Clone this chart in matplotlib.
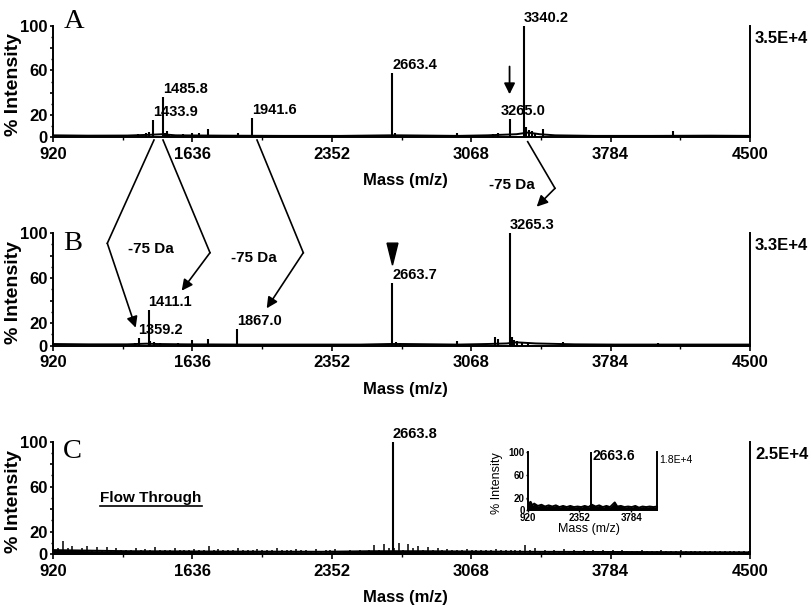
import matplotlib
matplotlib.use('Agg')
import matplotlib.pyplot as plt
from matplotlib.lines import Line2D
from matplotlib.patches import FancyArrowPatch, Polygon

plt.rcParams['font.family'] = ['Liberation Sans', 'DejaVu Sans']
plt.rcParams['font.weight'] = 'bold'

W, H = 812, 607

# axis ticks
x_ticks = [920, 1636, 2352, 3068, 3784, 4500]
x_minor = [1278, 1994, 2710, 3426, 4142]
y_ticks = [0, 20, 40, 60, 80, 100]
y_labels = ['0', '20', '', '60', '', '100']
y_minor = [10, 30, 50, 70, 90]

# Panel A - peaks (m/z, % intensity)
a_mass = [1357, 1400, 1413, 1433.9, 1485.8, 1497, 1504, 1515, 1588, 1632, 1670, 1716,
          1870, 1941.6, 2663.4, 2675, 2993, 3180, 3205, 3265.0, 3340.2, 3352, 3366,
          3381, 3395, 3438, 4103, 4150, 4178]
a_int = [3, 3.5, 4.5, 15, 36, 4, 5, 3, 3, 3.5, 3.5, 7,
         3.5, 17.5, 58, 4, 3.5, 2.5, 3.5, 16.5, 100, 9, 6,
         5, 3.5, 7, 5, 2, 2]
a_base_mass = [920, 1100, 1300, 1420, 1480, 1550, 1800, 2100, 2400, 2650, 2700, 3000,
               3150, 3300, 3360, 3420, 3500, 3700, 4000, 4300, 4500]
a_base_int = [1.5, 1.2, 1.3, 2.0, 2.5, 1.5, 1.2, 1.0, 1.0, 1.5, 1.5, 1.0,
              1.5, 2.5, 4.0, 2.5, 1.5, 1.0, 1.0, 1.2, 1.0]
a_labels = [1433.9, 1485.8, 1941.6, 2663.4, 3265.0, 3340.2]

# Panel B
b_mass = [1340, 1359.2, 1411.1, 1418, 1440, 1470, 1560, 1632, 1718, 1867.0, 2663.7, 2680,
          2700, 2993, 3190, 3205, 3265.3, 3276, 3290, 3305, 3330, 3360, 3539, 4027]
b_int = [2.5, 7, 32, 4, 3, 2.5, 2.5, 5, 6, 15, 56, 3,
         2, 4, 7.5, 6, 100, 8, 5, 4, 3, 2.5, 3, 2.5]
b_base_mass = [920, 1100, 1300, 1400, 1450, 1600, 1900, 2200, 2500, 2650, 2720, 3000,
               3150, 3250, 3300, 3400, 3600, 3800, 4100, 4500]
b_base_int = [1.5, 1.2, 1.2, 1.8, 1.5, 1.2, 1.0, 1.0, 1.0, 1.5, 1.5, 1.0,
              1.5, 2.0, 3.0, 2.0, 1.2, 1.0, 1.0, 1.0]
b_labels = [1359.2, 1411.1, 1867.0, 2663.7, 3265.3]

# Panel C (flow through)
c_mass = [2663.8]
c_int = [100]
c_base_mass = [920, 1300, 1800, 2300, 2550, 2800, 3300, 3800, 4500]
c_base_int = [3.5, 2.5, 2.2, 2.0, 2.5, 2.5, 2.0, 1.8, 1.5]
c_noise_mass = [
    920, 945, 970, 995, 1020, 1045, 1070, 1095, 1120, 1145, 1170, 1195,
    1220, 1245, 1270, 1295, 1320, 1345, 1370, 1395, 1420, 1445, 1470, 1495,
    1520, 1545, 1570, 1595, 1620, 1645, 1670, 1695, 1720, 1745, 1770, 1795,
    1820, 1845, 1870, 1895, 1920, 1945, 1970, 1995, 2020, 2045, 2070, 2095,
    2120, 2145, 2170, 2195, 2220, 2245, 2270, 2295, 2320, 2345, 2370, 2395,
    2420, 2445, 2470, 2495, 2520, 2545, 2570, 2595, 2620, 2645, 2670, 2695,
    2720, 2745, 2770, 2795, 2820, 2845, 2870, 2895, 2920, 2945, 2970, 2995,
    3020, 3045, 3070, 3095, 3120, 3145, 3170, 3195, 3220, 3245, 3270, 3295,
    3320, 3345, 3370, 3395, 3420, 3445, 3470, 3495, 3520, 3545, 3570, 3595,
    3620, 3645, 3670, 3695, 3720, 3745, 3770, 3795, 3820, 3845, 3870, 3895,
    3920, 3945, 3970, 3995, 4020, 4045, 4070, 4095, 4120, 4145, 4170, 4195,
    4220, 4245, 4270, 4295, 4320, 4345, 4370, 4395, 4420, 4445, 4470, 4495]
c_noise_int = [
    8, 5, 12, 5, 7, 4, 5, 7, 4, 6, 4, 6,
    4, 5, 3.5, 4, 3.5, 5, 3.5, 4.5, 3.5, 6, 3.5, 4,
    3.5, 5, 3.5, 4, 3.5, 4.5, 3.5, 4, 7.5, 3.5, 4.5, 3.5,
    4, 3.5, 5, 3.5, 4, 3.5, 4.5, 3.5, 4, 3.5, 5, 3.5,
    4, 3.5, 4.5, 3.5, 4, 3, 4.5, 3, 4, 3.5, 4.5, 3,
    3, 3.5, 3, 3.5, 3, 3.5, 8, 4, 9, 5, 5, 10,
    4, 9, 5, 7, 4, 6, 4, 5, 3.5, 4.5, 3.5, 4,
    3.5, 4.5, 3.5, 4, 3.5, 4, 3.5, 4.5, 3.5, 4, 3.5, 4,
    3.5, 8, 3.5, 5, 3, 4, 3, 4, 3, 4.5, 3, 3.5,
    3, 4, 3, 3.5, 3, 4, 3, 3.5, 3, 4, 3, 3,
    3, 3.5, 2.5, 3, 3, 3.5, 2.5, 3, 2.5, 3.5, 2.5, 3,
    2.5, 3, 2.5, 3, 2.5, 3, 2.5, 3, 2.5, 3, 2.5, 2.5]

# Inset of panel C
in_mass = [2663.6]
in_int = [100]
in_noise_mass = [920, 960, 1000, 1050, 1100, 1200, 1300, 1400, 1500, 1600, 1700, 1800, 1900,
                 2000, 2100, 2200, 2300, 2400, 2500, 2600, 2700, 2800, 2900, 3000, 3100, 3200,
                 3330, 3400, 3500, 3600, 3700, 3800, 3900, 4000, 4100, 4200, 4300, 4400, 4500]
in_noise_int = [18, 9, 14, 8, 11, 7, 9, 6, 8, 6, 8, 5, 7,
                5, 7, 5, 6, 5, 7, 5, 9, 6, 8, 5, 7, 5,
                13, 6, 7, 5, 6, 5, 7, 4, 6, 5, 6, 5, 6]

scale_texts = ['3.5E+4', '3.3E+4', '2.5E+4']
letters = ['A', 'B', 'C']
letter_y = [0.979, 0.849, 0.852]


def px_rect(left, top, right, bottom):
    return [left / W, 1 - bottom / H, (right - left) / W, (bottom - top) / H]


def fpx(x, y):
    return (x / W, 1 - y / H)


fig = plt.figure(figsize=(W / 100, H / 100), dpi=100)

boxes = [px_rect(53, 26, 750, 137), px_rect(53, 233, 750, 345.7), px_rect(53, 441.7, 750, 554)]
axes = [fig.add_axes(b) for b in boxes]

for i, ax in enumerate(axes):
    ax.set_xlim(920, 4500)
    ax.set_ylim(0, 100)
    ax.spines['top'].set_visible(False)
    for s in ['left', 'bottom', 'right']:
        ax.spines[s].set_linewidth(1.4)
    ax.set_xticks(x_ticks)
    ax.set_xticks(x_minor, minor=True)
    ax.set_yticks(y_ticks)
    ax.set_yticklabels(y_labels)
    ax.set_yticks(y_minor, minor=True)
    ax.tick_params(which='both', direction='out', right=False, width=1.2)
    ax.tick_params(axis='x', which='major', length=3.5, pad=3.5, labelsize=12)
    ax.tick_params(axis='y', which='major', length=2.5, pad=1.5, labelsize=12)
    ax.tick_params(which='minor', length=1.8, width=1)
    ax.set_xlabel('Mass (m/z)', fontsize=12, fontweight='bold')
    ax.xaxis.set_label_coords(0.505, -0.32)
    ax.set_ylabel('% Intensity', fontsize=14, fontweight='bold')
    ax.yaxis.set_label_coords(-0.044, 0.47)
    ax.text(1.007, 0.89, scale_texts[i], transform=ax.transAxes, ha='left', va='center',
            fontsize=12, fontweight='bold')
    ax.text(0.0148, letter_y[i], letters[i], transform=ax.transAxes, family='Liberation Serif',
            fontweight='normal', fontsize=20.5, va='baseline', ha='left')


def draw_spectrum(ax, mass, inten, base_mass, base_int, lw=1.5, filled=False):
    ax.plot(base_mass, base_int, color='k', lw=1.4, clip_on=False)
    if filled:
        ax.fill_between(base_mass, 0, base_int, color='k', lw=0)
    ax.vlines(mass, 0, inten, color='k', lw=lw, clip_on=False)


def label_peaks(ax, mass, inten, labels, dx=None):
    lookup = dict(zip(mass, inten))
    for m in labels:
        off = dx.get(m, 0) if dx else 0
        ax.annotate(f'{m:.1f}', xy=(m, lookup[m]), xytext=(off, 2.8), textcoords='offset points',
                    ha='left', va='baseline', fontsize=10.5, fontweight='bold')


axA, axB, axC = axes
draw_spectrum(axA, a_mass, a_int, a_base_mass, a_base_int)
label_peaks(axA, a_mass, a_int, a_labels, {3265.0: -6.5})
draw_spectrum(axB, b_mass, b_int, b_base_mass, b_base_int)
label_peaks(axB, b_mass, b_int, b_labels)
draw_spectrum(axC, c_mass, c_int, c_base_mass, c_base_int, filled=True)
axC.vlines(c_noise_mass, 0, c_noise_int, color='k', lw=1.1)
label_peaks(axC, c_mass, c_int, c_mass)

# arrow marking 3265 in panel A
axA.annotate('', xy=(3265.0, 38.5), xytext=(3265.0, 63.5),
             arrowprops=dict(arrowstyle='-|>,head_length=0.5,head_width=0.25', lw=1.3, color='k',
                             mutation_scale=13, shrinkA=0, shrinkB=0))

# filled triangle above 2663.7 in panel B
tri = Polygon([(2663.7 - 28, 91), (2663.7 + 28, 91), (2663.7, 71.5)], closed=True,
              facecolor='k', edgecolor='k', clip_on=False)
axB.add_patch(tri)

# connectors between panel A and panel B (figure pixel coordinates)
connectors = [
    [(154, 140), (107.3, 243.3), (135.7, 327.7)],
    [(163, 140), (210, 252.7), (181.7, 290.7)],
    [(257, 140), (303.3, 252.7), (266.7, 308.3)],
    [(527.7, 141.7), (555, 188.3), (536.7, 206.7)],
]
for p0, p1, p2 in connectors:
    a, b = fpx(*p0), fpx(*p1)
    fig.add_artist(Line2D([a[0], b[0]], [a[1], b[1]], transform=fig.transFigure, color='k', lw=1.2))
    fig.add_artist(FancyArrowPatch(fpx(*p1), fpx(*p2), transform=fig.transFigure,
                                   arrowstyle='-|>,head_length=0.5,head_width=0.25',
                                   mutation_scale=13, lw=1.2, color='k', shrinkA=0, shrinkB=0))

for (x, y) in [(512, 185), (151.2, 249.3), (253.8, 258.3)]:
    fx, fy = fpx(x, y)
    fig.text(fx, fy, '-75 Da', ha='center', va='center', fontsize=11, fontweight='bold')

# Flow Through label with underline
fx, fy = fpx(151, 498)
ft = fig.text(fx, fy, 'Flow Through', ha='center', va='center', fontsize=11, fontweight='bold')

# inset
axI = fig.add_axes(px_rect(527.7, 451.7, 657, 510))
axI.set_xlim(920, 4500)
axI.set_ylim(0, 100)
axI.spines['top'].set_visible(False)
for s in ['left', 'bottom', 'right']:
    axI.spines[s].set_linewidth(1.4)
draw_spectrum(axI, in_mass, in_int, in_noise_mass, in_noise_int, lw=1.4, filled=True)
axI.set_xticks([920, 2352, 3784])
axI.set_yticks([0, 20, 60, 100])
axI.tick_params(which='both', direction='out', right=False, length=1.5, width=1, pad=0.5,
                labelsize=7)
axI.set_xlabel('Mass (m/z)', fontsize=9, fontweight='normal')
axI.xaxis.set_label_coords(0.474, -0.22)
axI.set_ylabel('% Intensity', fontsize=9, fontweight='normal')
axI.yaxis.set_label_coords(-0.19, 0.46)
axI.annotate('2663.6', xy=(2663.6, 92), xytext=(1, 0), textcoords='offset points',
             ha='left', va='center', fontsize=10, fontweight='bold')
axI.text(1.015, 0.86, '1.8E+4', transform=axI.transAxes, ha='left', va='center',
         fontsize=7.5, fontweight='normal')

fig.canvas.draw()
bb = ft.get_window_extent().transformed(fig.transFigure.inverted())
fig.add_artist(Line2D([bb.x0, bb.x1], [bb.y0 - 0.002, bb.y0 - 0.002], transform=fig.transFigure,
                      color='k', lw=1.2))

fig.savefig('out.png', dpi=100)
